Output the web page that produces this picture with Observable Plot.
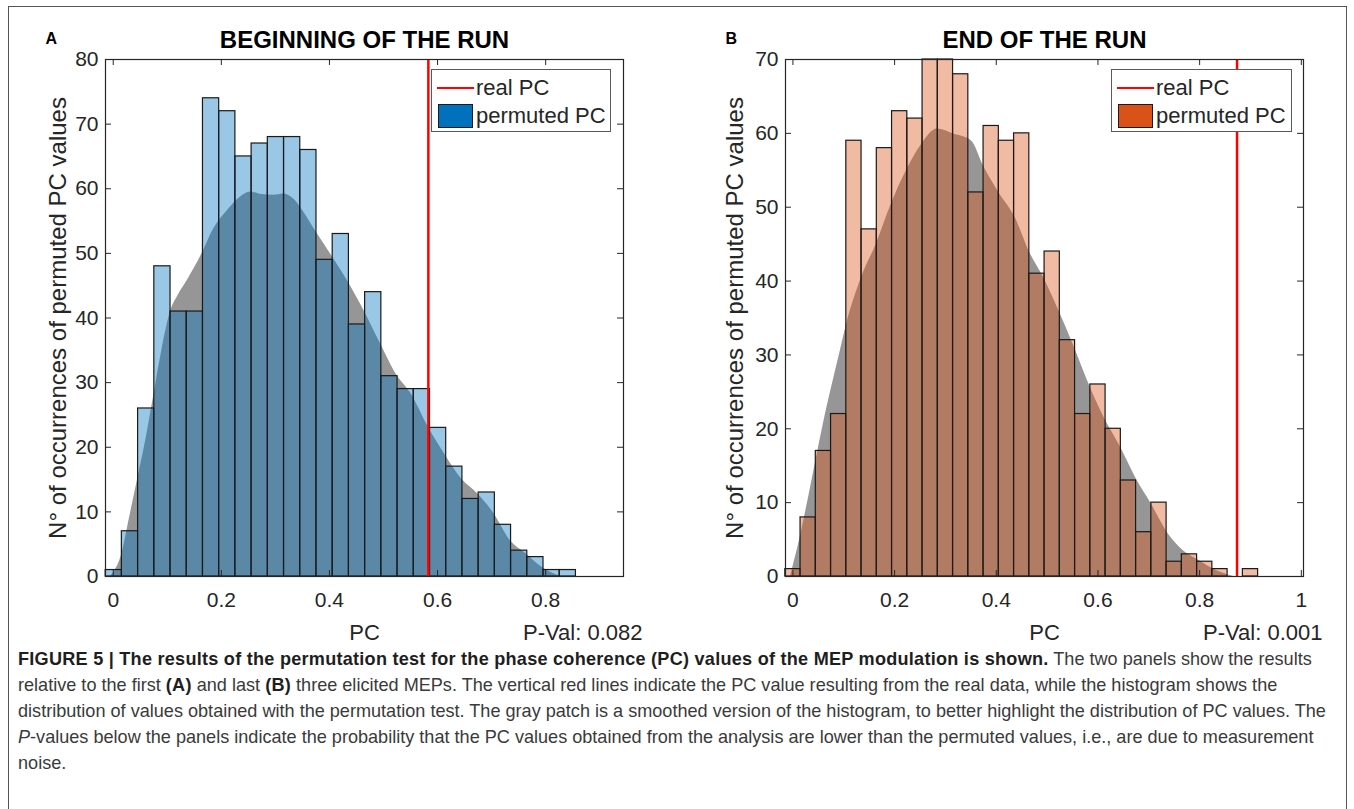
<!DOCTYPE html>
<html>
<head>
<meta charset="utf-8">
<script src="https://cdn.jsdelivr.net/npm/d3@7"></script>
<script src="https://cdn.jsdelivr.net/npm/@observablehq/plot@0.6"></script>
<style>
  html, body { margin: 0; padding: 0; background: #fff; }
  body { width: 1354px; height: 809px; position: relative; overflow: hidden; font-family: "Liberation Sans", Arial, sans-serif; }
  #frame { position: absolute; left: 8px; top: 6px; width: 1339px; height: 830px; border: 1px solid #555; box-sizing: border-box; }
  .panel { position: absolute; top: 0; }
  .panel svg { overflow: visible; }
  .legend { position: absolute; top: 69px; height: 63px; background: #fff; border: 1px solid #5a5a5a; box-sizing: border-box; font-size: 22px; color: #262626; }
  .legend .line { position: absolute; left: 5px; top: 17px; width: 37px; height: 0; border-top: 2.5px solid #ff0000; }
  .legend .patch { position: absolute; left: 6px; top: 34px; width: 33px; height: 22px; border: 1.3px solid #1a1a1a; }
  .legend .t1 { position: absolute; left: 44px; top: 5px; line-height: 26px; white-space: nowrap; }
  .legend .t2 { position: absolute; left: 44px; top: 33px; line-height: 26px; white-space: nowrap; }
  #caption { position: absolute; left: 18px; top: 646px; font-size: 18.1px; line-height: 26px; color: #3a3a3a; white-space: nowrap; }
  #caption b { color: #1e1e1e; letter-spacing: 0.25px; }
</style>
</head>
<body>
<div id="frame"></div>
<div id="panelA" class="panel" style="left:0px"></div>
<div id="panelB" class="panel" style="left:680px"></div>
<div class="legend" style="left:431px; width:180px;">
  <div class="line"></div><div class="t1">real PC</div>
  <div class="patch" style="background:#0072BD"></div><div class="t2">permuted PC</div>
</div>
<div class="legend" style="left:1111px; width:181px;">
  <div class="line"></div><div class="t1">real PC</div>
  <div class="patch" style="background:#D95319"></div><div class="t2">permuted PC</div>
</div>
<div id="caption">
<b>FIGURE 5 | The results of the permutation test for the phase coherence (PC) values of the MEP modulation is shown.</b> The two panels show the results<br>
relative to the first <b>(A)</b> and last <b>(B)</b> three elicited MEPs. The vertical red lines indicate the PC value resulting from the real data, while the histogram shows the<br>
distribution of values obtained with the permutation test. The gray patch is a smoothed version of the histogram, to better highlight the distribution of PC values. The<br>
<i>P</i>-values below the panels indicate the probability that the PC values obtained from the analysis are lower than the permuted values, i.e., are due to measurement<br>
noise.
</div>
<script>
// ---------- Panel A: beginning of the run ----------
const edgesA = [-0.014, 0.016, 0.046, 0.076, 0.106, 0.136, 0.166, 0.196, 0.226, 0.256,
  0.286, 0.316, 0.346, 0.376, 0.406, 0.436, 0.466, 0.496, 0.526, 0.556,
  0.586, 0.616, 0.646, 0.676, 0.706, 0.736, 0.766, 0.796, 0.826, 0.856];
const countsA = [1, 7, 26, 48, 41, 41, 74, 72, 65, 67, 68, 68, 66, 49, 53, 39, 44, 31, 29, 29,
  23, 17, 12, 13, 8, 4, 3, 1, 1];
const smoothXA = [-0.005, 0.0, 0.016, 0.03, 0.045, 0.06, 0.075, 0.09, 0.106, 0.12, 0.137, 0.1645,
  0.186, 0.211, 0.235, 0.254, 0.275, 0.297, 0.3155, 0.334, 0.3465, 0.374, 0.402, 0.433, 0.4636,
  0.4945, 0.522, 0.553, 0.581, 0.615, 0.6455, 0.674, 0.7045, 0.734, 0.764, 0.794, 0.822, 0.83];
const smoothYA = [0, 0.5, 3.5, 9, 15, 21, 28, 35, 41, 43.5, 45.8, 50,
  53.8, 56.6, 58.7, 59.5, 59.1, 59, 59.2, 58.4, 57.1, 53.5, 49.9, 45.8, 41.2,
  36, 31.5, 28, 23.4, 18.7, 15, 12.8, 9.7, 5.6, 3.5, 1.4, 0.2, 0];
const realPCA = 0.583;
const xTicksA = [0, 0.2, 0.4, 0.6, 0.8];
const yTicksA = [0, 10, 20, 30, 40, 50, 60, 70, 80];

// ---------- Panel B: end of the run ----------
const edgesB = [-0.015, 0.015, 0.045, 0.075, 0.105, 0.135, 0.165, 0.195, 0.225, 0.255,
  0.285, 0.315, 0.345, 0.375, 0.405, 0.435, 0.465, 0.495, 0.525, 0.555,
  0.585, 0.615, 0.645, 0.675, 0.705, 0.735, 0.765, 0.795, 0.825, 0.855, 0.885, 0.915];
const countsB = [1, 8, 17, 22, 59, 47, 58, 63, 62, 70, 70, 68, 52, 61, 59, 60, 41, 44, 32, 22,
  26, 20, 13, 6, 10, 2, 3, 2, 1, 0, 1];
const smoothXB = [-0.005, 0.0, 0.013, 0.0296, 0.049, 0.0657, 0.092, 0.105, 0.135, 0.164, 0.194,
  0.22, 0.253, 0.284, 0.3165, 0.351, 0.376, 0.405, 0.437, 0.467, 0.493, 0.523, 0.556, 0.585,
  0.6115, 0.6445, 0.677, 0.7035, 0.738, 0.768, 0.798, 0.8325, 0.867];
const smoothYB = [0, 1.3, 4.9, 10.3, 17, 22.5, 30.2, 34, 40.5, 45, 50.5,
  54.5, 58.5, 60.6, 59.9, 59, 55.4, 52, 48.6, 43.7, 40.5, 36, 30.6, 25.6,
  21.6, 17.5, 13, 10, 5.8, 3.5, 2.2, 0.8, 0];
const realPCB = 0.8736;
const xTicksB = [0, 0.2, 0.4, 0.6, 0.8, 1];
const yTicksB = [0, 10, 20, 30, 40, 50, 60, 70];

const FONT = '"Liberation Sans", Arial, sans-serif';
const AXC = "#262626";

function panel({edges, counts, sx, sy, xDomain, yDomain, xTicks, yTicks, realPC, color, title, letter, pval, ylabDx}) {
  const bins = counts.map((c, i) => ({x1: edges[i], x2: edges[i + 1], c})).filter(d => d.c > 0);
  const smooth = sx.map((x, i) => ({x, y: sy[i]}));
  const W = 660, H = 650, ml = 105, mt = 59, mr = 37, mb = 74;
  const pw = W - ml - mr, ph = H - mt - mb;
  return Plot.plot({
    width: W, height: H,
    marginLeft: ml, marginTop: mt, marginRight: mr, marginBottom: mb,
    x: {domain: xDomain},
    y: {domain: yDomain},
    style: {fontFamily: FONT, color: AXC, background: "transparent", overflow: "visible"},
    marks: [
      Plot.areaY(smooth, {x: "x", y: "y", fill: "#969696", curve: "monotone-x"}),
      Plot.rectY(bins, {x1: "x1", x2: "x2", y: "c", fill: color, fillOpacity: 0.4, stroke: "#1a1a1a", strokeWidth: 1.2}),
      Plot.ruleX([realPC], {stroke: "#ff0000", strokeWidth: 2.5}),
      Plot.tickX(xTicks, {x: d => d, insetTop: ph - 6, stroke: AXC}),
      Plot.tickX(xTicks, {x: d => d, insetBottom: ph - 6, stroke: AXC}),
      Plot.tickY(yTicks, {y: d => d, insetRight: pw - 6, stroke: AXC}),
      Plot.tickY(yTicks, {y: d => d, insetLeft: pw - 6, stroke: AXC}),
      Plot.frame({stroke: AXC, strokeWidth: 1.2}),
      Plot.axisX(xTicks, {tickSize: 0, tickPadding: 16, fontSize: 21, label: null, tickFormat: d => String(d), fill: AXC}),
      Plot.axisY(yTicks, {tickSize: 0, tickPadding: 7, fontSize: 21, label: null, tickFormat: d => String(d), fill: AXC}),
      Plot.text(["N° of occurrences of permuted PC values"], {frameAnchor: "left", rotate: -90, dx: ylabDx, textAnchor: "middle", lineAnchor: "middle", fontSize: 24, fill: AXC}),
      Plot.text(["PC"], {frameAnchor: "bottom", dy: 56, lineAnchor: "middle", fontSize: 22, fill: AXC}),
      Plot.text([pval], {frameAnchor: "bottom-right", dx: 19, dy: 56, lineAnchor: "middle", textAnchor: "end", fontSize: 22, fill: AXC}),
      Plot.text([title], {frameAnchor: "top", dy: -19, lineAnchor: "middle", fontSize: 24, fontWeight: "bold", fill: "#000"}),
      Plot.text([letter], {frameAnchor: "top-left", dx: -60, dy: -21, lineAnchor: "middle", textAnchor: "start", fontSize: 16, fontWeight: "bold", fill: "#000"})
    ]
  });
}

document.getElementById("panelA").append(panel({
  edges: edgesA, counts: countsA, sx: smoothXA, sy: smoothYA,
  xDomain: [-0.0143, 0.944], yDomain: [0, 80], xTicks: xTicksA, yTicks: yTicksA,
  realPC: realPCA, color: "#0072BD", title: "BEGINNING OF THE RUN", letter: "A",
  pval: "P-Val: 0.082", ylabDx: -47.5
}));
document.getElementById("panelB").append(panel({
  edges: edgesB, counts: countsB, sx: smoothXB, sy: smoothYB,
  xDomain: [-0.0146, 1.0043], yDomain: [0, 70], xTicks: xTicksB, yTicks: yTicksB,
  realPC: realPCB, color: "#D95319", title: "END OF THE RUN", letter: "B",
  pval: "P-Val: 0.001", ylabDx: -50.6
}));
</script>
</body>
</html>
